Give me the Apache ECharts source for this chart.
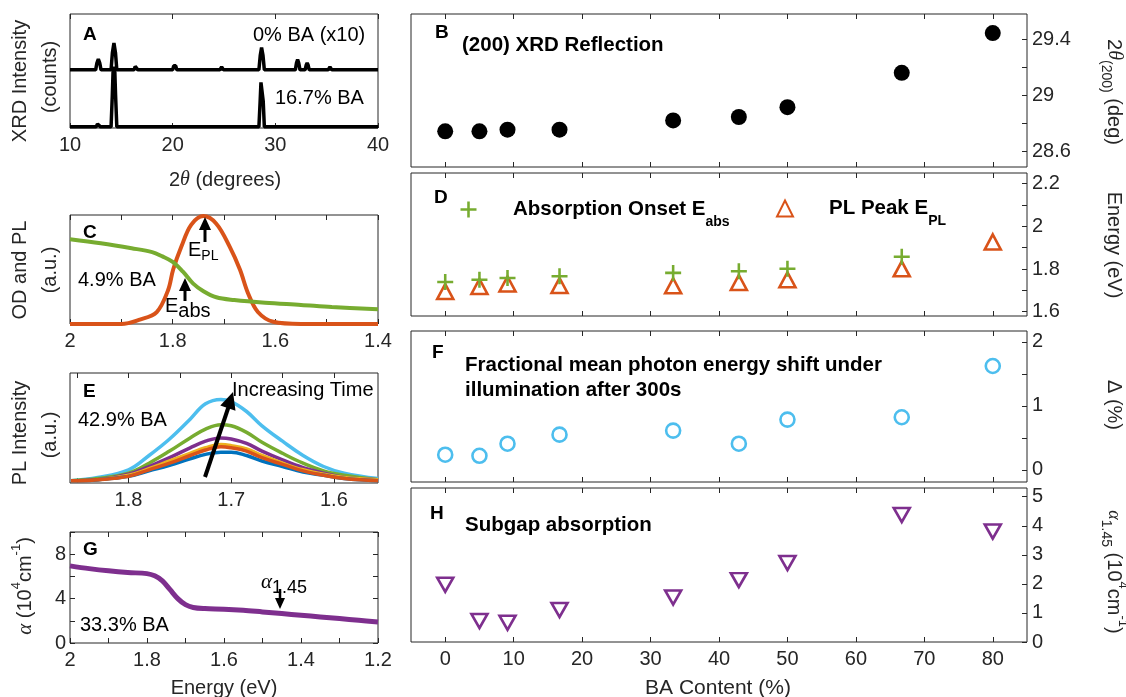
<!DOCTYPE html>
<html><head><meta charset="utf-8">
<script src="https://cdn.jsdelivr.net/npm/echarts@6/dist/echarts.min.js"></script>
<style>html,body{margin:0;padding:0;background:#fff}#c{width:1126px;height:697px}</style>
</head><body><div id="c"></div>
<script>
// ---------------- DATA ----------------
// Panel A: XRD patterns [2theta, intensity] (0% BA is x10, drawn offset above)
const xrd0BA = [[10,0],[12.5,0],[12.62,0.12],[12.76,0.19],[12.9,0.12],[13.02,0],
  [14.0,0],[14.13,0.3],[14.28,0.47],[14.43,0.3],[14.56,0],
  [16.25,0],[16.35,0.06],[16.43,0.09],[16.51,0.06],[16.61,0],
  [20.0,0],[20.1,0.07],[20.2,0.1],[20.3,0.07],[20.4,0],
  [24.6,0],[24.7,0.035],[24.77,0.05],[24.85,0.035],[24.95,0],
  [28.4,0],[28.53,0.25],[28.66,0.39],[28.8,0.25],[28.93,0],
  [31.95,0],[32.06,0.12],[32.17,0.18],[32.28,0.12],[32.4,0],
  [32.9,0],[33.0,0.08],[33.1,0.12],[33.2,0.08],[33.3,0],
  [35.15,0],[35.25,0.035],[35.32,0.05],[35.4,0.035],[35.5,0],
  [38.6,0],[38.7,0.02],[38.8,0],[40,0]];
const xrd167BA = [[10,0],[12.55,0],[12.68,0.05],[12.76,0.07],[12.86,0.05],[12.98,0],
  [14.0,0],[14.12,0.55],[14.2,1.0],[14.28,1.05],[14.36,1.0],[14.44,0.55],[14.56,0],
  [28.4,0],[28.52,0.45],[28.6,0.78],[28.66,0.8],[28.74,0.78],[28.82,0.45],[28.93,0],[40,0]];
// Panel C: OD (green) and PL (orange) vs energy (eV)
const odEnergy = [2.0,1.94,1.88,1.84,1.82,1.80,1.78,1.76,1.74,1.715,1.68,1.62,1.55,1.49,1.4];
const odValue  = [0.777,0.74,0.695,0.66,0.62,0.57,0.48,0.37,0.30,0.245,0.22,0.195,0.175,0.156,0.135];
const plEnergy = [2.0,1.90,1.864,1.831,1.809,1.799,1.783,1.764,1.74,1.715,1.689,1.669,1.653,1.634,1.604,1.55,1.4];
const plValue  = [0.0,0.0,0.04,0.11,0.31,0.50,0.71,0.91,0.99,0.92,0.71,0.50,0.28,0.11,0.02,0.0,0.0];
// Panel E: PL spectra over time
const ptEnergy = [1.856,1.83,1.80,1.78,1.76,1.74,1.725,1.71,1.70,1.685,1.67,1.65,1.63,1.61,1.59,1.557];
const ptCyan   = [0.02,0.05,0.12,0.25,0.40,0.58,0.72,0.76,0.74,0.65,0.52,0.38,0.25,0.15,0.09,0.04];
const ptGreen  = [0.02,0.04,0.09,0.18,0.29,0.41,0.49,0.53,0.52,0.46,0.37,0.27,0.18,0.11,0.07,0.03];
const ptPurple = [0.02,0.03,0.08,0.15,0.23,0.32,0.38,0.41,0.40,0.36,0.29,0.21,0.14,0.09,0.05,0.03];
const ptYellow = [0.02,0.03,0.07,0.13,0.20,0.27,0.32,0.35,0.34,0.31,0.25,0.18,0.12,0.08,0.05,0.03];
const ptBlue   = [0.02,0.03,0.06,0.11,0.16,0.22,0.26,0.28,0.28,0.25,0.20,0.15,0.10,0.07,0.04,0.02];
const ptOrange = [0.02,0.03,0.06,0.12,0.18,0.25,0.30,0.33,0.32,0.29,0.23,0.17,0.11,0.07,0.04,0.02];
// Panel G: absorption coefficient (1e4 cm^-1)
const abEnergy = [2.0,1.95,1.9,1.85,1.8,1.78,1.76,1.74,1.72,1.70,1.68,1.65,1.6,1.55,1.5,1.45,1.4,1.35,1.3,1.25,1.2];
const abAlpha  = [6.95,6.7,6.5,6.35,6.25,6.05,5.6,4.8,4.0,3.45,3.2,3.1,3.05,2.95,2.8,2.65,2.5,2.35,2.2,2.05,1.9];
// Right column: vs BA content (%)
const baContent  = [0,5,9.1,16.7,33.3,42.9,50,66.7,80];
const twoTheta200 = [28.744,28.744,28.756,28.756,28.822,28.846,28.916,29.161,29.444];
const eAbsOnset  = [1.739,1.750,1.758,1.766,1.782,1.790,1.801,1.858,null];
const ePLPeak    = [1.695,1.718,1.730,1.723,1.722,1.737,1.750,1.801,1.927];
const deltaShift = [0.236,0.22,0.408,0.55,0.613,0.408,0.785,0.822,1.623];
const alpha145   = [1.97,0.72,0.66,1.1,1.53,2.13,2.72,4.37,3.8];
// Tick values
const baTicks = [0,10,20,30,40,50,60,70,80];
const bTicks = [28.6,28.8,29,29.2,29.4], bLabels = [28.6,29,29.4];
const dTicks = [1.6,1.7,1.8,1.9,2.0,2.1,2.2], dLabels = [1.6,1.8,2,2.2];
const fTicks = [0,0.5,1,1.5,2], fLabels = [0,1,2];
const hTicks = [0,1,2,3,4,5];
const aTicks = [10,20,30,40];
const cTicks = [1.4,1.5,1.6,1.7,1.8,1.9,2.0], cLabels = [1.4,1.6,1.8,2];
const eTicks = [1.6,1.65,1.7,1.75,1.8,1.85], eLabels = [1.6,1.7,1.8];
const gTicks = [1.2,1.3,1.4,1.5,1.6,1.7,1.8,1.9,2.0], gLabels = [1.2,1.4,1.6,1.8,2];
const gyTicks = [0,2,4,6,8,10], gyLabels = [0,4,8];

// ---------------- STYLE ----------------
const AX = '#262626';
const FR = "'Liberation Sans', Arial, Helvetica, sans-serif";
const FS = "'Liberation Serif', 'DejaVu Serif', serif";
const C_BLUE='#0072BD', C_OR='#D95319', C_YEL='#EDB120', C_PUR='#7E2F8E', C_GRN='#77AC30', C_CYAN='#4DBEEE';
const PLUS = 'path://M4.2,0H5.8V4.2H10V5.8H5.8V10H4.2V5.8H0V4.2H4.2Z';

const RL = 411, RW = 616;
const grids = [
  {left:70, top:14, width:308, height:114},   // A
  {left:70, top:215, width:308, height:109},  // C
  {left:70, top:373, width:308, height:110},  // E
  {left:70, top:532, width:308, height:111},  // G
  {left:RL, top:14, width:RW, height:153},  // B
  {left:RL, top:173, width:RW, height:143}, // D
  {left:RL, top:331, width:RW, height:151}, // F
  {left:RL, top:488, width:RW, height:154}  // H
].map(g => Object.assign({show:true, borderColor:AX, borderWidth:1, backgroundColor:'transparent'}, g));

const xAxes = [], yAxes = [];
function axis(list, gi, pos, min, max, ticks, labels, o) {
  o = o || {};
  list.push({
    type:'value', gridIndex:gi, position:pos, min:min, max:max, inverse:!!o.inverse,
    axisLine:{show:false, onZero:false}, splitLine:{show:false},
    axisTick:{show:!!ticks, inside:true, length:5, customValues:ticks || undefined, lineStyle:{color:AX, width:1}},
    axisLabel:{show:!!labels, customValues:labels || undefined, color:AX, fontSize:o.fs || 20,
      fontFamily:FR, margin:o.margin || 7}
  });
  return list.length - 1;
}
// Left column
const axA = axis(xAxes,0,'bottom',10,40,aTicks,aTicks); axis(xAxes,0,'top',10,40,aTicks,null);
const ayA = axis(yAxes,0,'left',-0.02,1.98,null,null);
const axC = axis(xAxes,1,'bottom',1.4,2.0,cTicks,cLabels,{inverse:true}); axis(xAxes,1,'top',1.4,2.0,cTicks,null,{inverse:true});
const ayC = axis(yAxes,1,'left',0,1,null,null);
const axE = axis(xAxes,2,'bottom',1.557,1.857,eTicks,eLabels,{inverse:true}); axis(xAxes,2,'top',1.557,1.857,eTicks,null,{inverse:true});
const ayE = axis(yAxes,2,'left',0,1,null,null);
const axG = axis(xAxes,3,'bottom',1.2,2.0,gTicks,gLabels,{inverse:true}); axis(xAxes,3,'top',1.2,2.0,gTicks,null,{inverse:true});
const ayG = axis(yAxes,3,'left',0,10,gyTicks,gyLabels,{margin:4}); axis(yAxes,3,'right',0,10,gyTicks,null);
// Right column
const NR = {margin:5};
const axB = axis(xAxes,4,'bottom',-5,85,baTicks,null); axis(xAxes,4,'top',-5,85,baTicks,null);
const ayB = axis(yAxes,4,'right',28.49,29.58,bTicks,bLabels,NR);
const axD = axis(xAxes,5,'bottom',-5,85,baTicks,null); axis(xAxes,5,'top',-5,85,baTicks,null);
const ayD = axis(yAxes,5,'right',1.58,2.25,dTicks,dLabels,NR);
const axF = axis(xAxes,6,'bottom',-5,85,baTicks,null); axis(xAxes,6,'top',-5,85,baTicks,null);
const ayF = axis(yAxes,6,'right',-0.19,2.17,fTicks,fLabels,NR);
const axH = axis(xAxes,7,'bottom',-5,85,baTicks,baTicks,{margin:7}); axis(xAxes,7,'top',-5,85,baTicks,null);
const ayH = axis(yAxes,7,'right',0,5.3,hTicks,hTicks,NR);

function zip(xs, ys) { return xs.map((x,i) => [x, ys[i]]); }
function lineS(name, xi, yi, data, color, w, smooth) {
  return {name, type:'line', xAxisIndex:xi, yAxisIndex:yi, data, showSymbol:false, symbol:'none',
    smooth: smooth || false, lineStyle:{color, width:w}, itemStyle:{color}, animation:false, z:3};
}
function scat(name, xi, yi, ys, symbol, size, style, rot) {
  return {name, type:'scatter', xAxisIndex:xi, yAxisIndex:yi, data: zip(baContent, ys).filter(p => p[1] != null),
    symbol, symbolSize:size, symbolRotate: rot || 0, itemStyle:Object.assign({opacity:1}, style), animation:false, z:4};
}
const series = [
  lineS('xrd0', axA, ayA, xrd0BA.map(p => [p[0], p[1] + 1]), '#000', 3.5),
  lineS('xrd167', axA, ayA, xrd167BA, '#000', 3.5),
  lineS('pl', axC, ayC, zip(plEnergy, plValue), C_OR, 4, 0.35),
  lineS('od', axC, ayC, zip(odEnergy, odValue), C_GRN, 4, 0.35),
  lineS('t6', axE, ayE, zip(ptEnergy, ptCyan), C_CYAN, 3.5, 0.4),
  lineS('t5', axE, ayE, zip(ptEnergy, ptGreen), C_GRN, 3.5, 0.4),
  lineS('t4', axE, ayE, zip(ptEnergy, ptPurple), C_PUR, 3.5, 0.4),
  lineS('t3', axE, ayE, zip(ptEnergy, ptYellow), C_YEL, 3.5, 0.4),
  lineS('t1', axE, ayE, zip(ptEnergy, ptBlue), C_BLUE, 3.5, 0.4),
  lineS('t2', axE, ayE, zip(ptEnergy, ptOrange), C_OR, 3.5, 0.4),
  lineS('alpha', axG, ayG, zip(abEnergy, abAlpha), C_PUR, 5, 0.35),
  scat('xrd200', axB, ayB, twoTheta200, 'circle', [16,16], {color:'#000'}),
  scat('EPL', axD, ayD, ePLPeak, 'triangle', [16,15], {color:'rgba(0,0,0,0)', borderColor:C_OR, borderWidth:2.6}),
  scat('Eabs', axD, ayD, eAbsOnset, PLUS, 16, {color:C_GRN}),
  scat('delta', axF, ayF, deltaShift, 'circle', 14, {color:'rgba(0,0,0,0)', borderColor:C_CYAN, borderWidth:2.6}),
  scat('alpha145', axH, ayH, alpha145, 'triangle', [16,14], {color:'rgba(0,0,0,0)', borderColor:C_PUR, borderWidth:2.6}, 180)
];

// ---------------- TEXT / ANNOTATIONS ----------------
function T(x, y, text, o) {
  o = o || {};
  const st = {text, x:0, y:0, fill:o.color || '#000', fontSize:o.fs || 20, fontFamily:FR,
    fontWeight:o.bold ? 'bold' : 'normal', align:o.align || 'left', verticalAlign:'middle',
    textAlign:o.align || 'left', textVerticalAlign:'middle'};
  if (o.rich) st.rich = o.rich;
  return {type:'text', x, y, rotation:o.rot || 0, style:st, z:10, silent:true};
}
function L(x1,y1,x2,y2,w){ return {type:'line', shape:{x1,y1,x2,y2}, style:{stroke:'#000', lineWidth:w}, z:10, silent:true}; }
function P(pts){ return {type:'polygon', shape:{points:pts}, style:{fill:'#000'}, z:10, silent:true}; }
const sup = (fs, ff) => ({fontSize:fs, fontFamily:ff||FR, lineHeight:30, verticalAlign:'top', fill:AX, color:AX});
const base = (fs, ff, extra) => Object.assign({fontSize:fs, fontFamily:ff||FR, lineHeight:30, verticalAlign:'middle', fill:AX, color:AX}, extra||{});
const subB = (fs, ff) => ({fontSize:fs, fontFamily:ff||FR, lineHeight:30, verticalAlign:'bottom', fill:AX, color:AX});

const graphic = [
  // Left panel labels
  T(83,35,'A',{bold:true, fs:19}),
  T(253,35,'0% BA (x10)'),
  T(275,98,'16.7% BA'),
  T(83,233,'C',{bold:true, fs:19}),
  T(78,280,'4.9% BA'),
  T(188,250,'{e|E}{s|PL}',{rich:{e:{fontSize:20,fontFamily:FR,lineHeight:26,verticalAlign:'middle',fill:'#000'}, s:{fontSize:14,fontFamily:FR,lineHeight:26,verticalAlign:'bottom',fill:'#000'}}}),
  T(165,306,'{e|E}{s|abs}',{rich:{e:{fontSize:20,fontFamily:FR,lineHeight:26,verticalAlign:'middle',fill:'#000'}, s:{fontSize:20,fontFamily:FR,lineHeight:30,verticalAlign:'bottom',fill:'#000'}}}),
  L(205,242,205,228,3), P([[205,217],[199,230],[211,230]]),
  L(185,301,185,289,3), P([[185,278],[179,291],[191,291]]),
  T(83,392,'E',{bold:true, fs:19}),
  T(78,420,'42.9% BA'),
  T(232,390,'Increasing Time'),
  L(205,477,228.5,407,4), P([[233,392],[235.5,410.7],[220.3,405.6]]),
  T(83,550,'G',{bold:true, fs:19}),
  T(80,625,'33.3% BA'),
  T(261,582,'{a|α}{s|1.45}',{rich:{a:{fontSize:21,fontFamily:FS,fontStyle:'italic',lineHeight:30,verticalAlign:'middle',fill:'#000'}, s:{fontSize:18,fontFamily:FR,lineHeight:30,verticalAlign:'bottom',fill:'#000'}}}),
  L(280,589,280,599,2.5), P([[280,609],[275,598],[285,598]]),
  // Left axis titles
  T(20,81,'XRD Intensity',{rot:Math.PI/2, align:'center', color:AX}),
  T(50,77,'(counts)',{rot:Math.PI/2, align:'center', color:AX}),
  T(20,270,'OD and PL',{rot:Math.PI/2, align:'center', color:AX}),
  T(50,270,'(a.u.)',{rot:Math.PI/2, align:'center', color:AX}),
  T(20,433,'PL Intensity',{rot:Math.PI/2, align:'center', color:AX}),
  T(50,435,'(a.u.)',{rot:Math.PI/2, align:'center', color:AX}),
  T(25,586,'{a|α} (10{p|4}cm{p|-1})',{rot:Math.PI/2, align:'center', color:AX,
     rich:{a:base(21,FS,{fontStyle:'italic'}), p:sup(13)}}),
  T(225,180,'2{t|θ} (degrees)',{align:'center', color:AX, rich:{t:{fontSize:20,fontFamily:FS,fontStyle:'italic',fill:AX}}}),
  T(224,688,'Energy (eV)',{align:'center', color:AX}),
  // Right panel labels
  T(435,33,'B',{bold:true, fs:19}),
  T(462,45,'(200) XRD Reflection',{bold:true, fs:20.5}),
  T(434,198,'D',{bold:true, fs:19}),
  T(432,353,'F',{bold:true, fs:19}),
  T(465,365,'Fractional mean photon energy shift under',{bold:true, fs:20.5}),
  T(465,390,'illumination after 300s',{bold:true, fs:20.5}),
  T(430,514,'H',{bold:true, fs:19}),
  T(465,525,'Subgap absorption',{bold:true, fs:20.5}),
  T(718,688,'BA Content (%)',{align:'center', fs:21, color:AX}),
  // Right axis titles
  T(1114,92,'{n|2}{t|θ}{s|(200)}{n| (deg)}',{rot:-Math.PI/2, align:'center', color:AX,
     rich:{n:base(20), t:base(20,FS,{fontStyle:'italic'}), s:subB(14)}}),
  T(1114,245,'Energy (eV)',{rot:-Math.PI/2, align:'center', color:AX}),
  T(1114,405,'Δ (%)',{rot:-Math.PI/2, align:'center', color:AX}),
  T(1114,572,'{a|α}{s|1.45}{n| (10}{p|4}{n|cm}{p|-1}{n|)}',{rot:-Math.PI/2, align:'center', color:AX,
     rich:{a:base(18,FS,{fontStyle:'italic'}), s:subB(14), n:base(20), p:sup(13)}})
];

const legendRich = (pad) => ({
  m:{fontFamily:FR, fontWeight:'bold', fontSize:20.5, color:'#000', lineHeight:40, verticalAlign:'middle', padding:[0,0,0,pad]},
  s:{fontFamily:FR, fontWeight:'bold', fontSize:14, color:'#000', lineHeight:40, verticalAlign:'bottom'}
});
const legend = [
  {data:['Eabs'], left:460.5, top:199, itemWidth:16, itemHeight:16, selectedMode:false, padding:0,
   formatter:() => '{m|Absorption Onset E}{s|abs}', textStyle:{rich:legendRich(31.5)}},
  {data:['EPL'], left:776, top:198, itemWidth:16, itemHeight:16, selectedMode:false, padding:0,
   formatter:() => '{m|PL Peak E}{s|PL}', textStyle:{rich:legendRich(31)}}
];

const chart = echarts.init(document.getElementById('c'), null, {renderer:'canvas'});
chart.setOption({animation:false, backgroundColor:'#fff', grid:grids, xAxis:xAxes, yAxis:yAxes,
  series, graphic, legend});
</script></body></html>
